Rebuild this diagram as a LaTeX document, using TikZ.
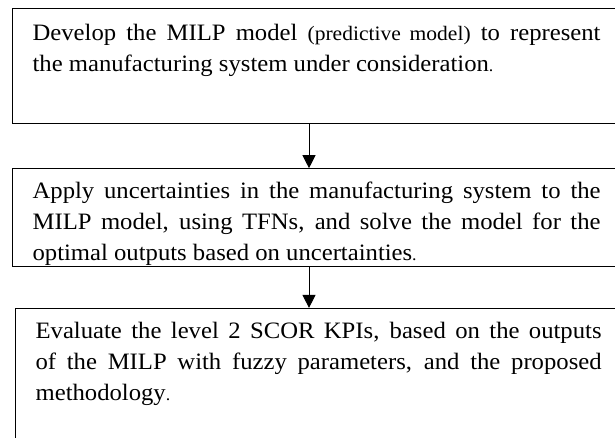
\documentclass[tikz,border=0pt]{standalone}
\usepackage{fontspec}
\setmainfont{Liberation Serif}[FakeStretch=1.05]
\usetikzlibrary{arrows.meta,positioning}
\newcommand{\smallstop}{{\fontsize{17}{31}\selectfont.}}
\newcommand{\smalltext}[1]{{\fontsize{20.5}{31}\selectfont #1}}
\hyphenpenalty=10000
\exhyphenpenalty=10000

\begin{document}
\begin{tikzpicture}[x=1pt,y=-1pt,>={Triangle[width=13pt,length=13pt]},
  stepbox/.style={draw,line width=1.2pt,text width=568pt,inner xsep=20pt,inner ysep=0pt,
    align=justify,font=\fontsize{23.5}{31}\selectfont},
  flowline/.style={->,line width=1pt}]
  \useasboundingbox (0,0) rectangle (615,437);
  \node[stepbox,anchor=north west,text height=32pt,text depth=83pt] (develop) at (12,8)
    {Develop the MILP model \smalltext{(predictive model)} to represent\linebreak the manufacturing system under consideration\smallstop};
  \node[stepbox,below=44pt of develop.south west,anchor=north west,text height=29.5pt,text depth=68pt] (apply)
    {Apply uncertainties in the manufacturing system to the\linebreak MILP model, using TFNs, and solve the model for the\linebreak optimal outputs based on uncertainties\smallstop};
  \node[stepbox,below=41pt of apply.south west,anchor=north west,xshift=3pt,text width=566pt,text height=29.5pt,text depth=150pt] (evaluate)
    {Evaluate the level 2 SCOR KPIs, based on the outputs\linebreak of the MILP with fuzzy parameters, and the proposed\linebreak methodology\smallstop};
  \coordinate (axis) at (309,0);
  \draw[flowline] (develop.south -| axis) -- (apply.north -| axis);
  \draw[flowline] (apply.south -| axis) -- (evaluate.north -| axis);
\end{tikzpicture}
\end{document}
